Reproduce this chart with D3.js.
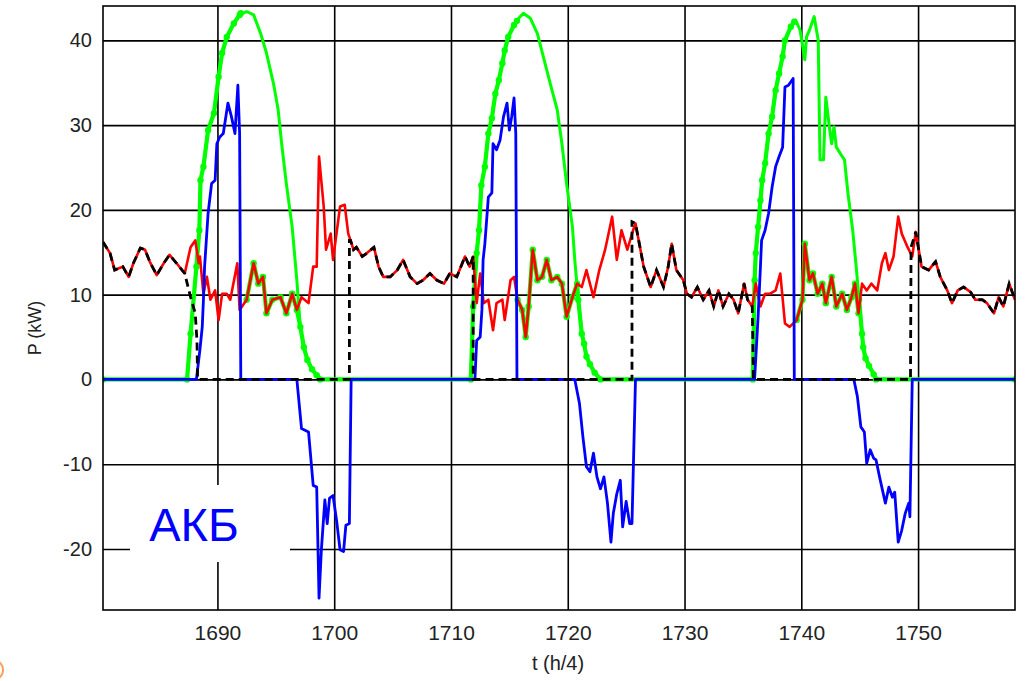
<!DOCTYPE html>
<html><head><meta charset="utf-8">
<script src="https://cdn.jsdelivr.net/npm/d3@7"></script>
<style>body{margin:0;background:#fff} svg{display:block} text{font-family:"Liberation Sans",Arial,sans-serif}</style>
</head><body><svg id="c" width="1025" height="681"></svg>
<script>
const xTicks = [1690, 1700, 1710, 1720, 1730, 1740, 1750];
const yTicks = [-20, -10, 0, 10, 20, 30, 40];
const xDomain = [1680.2, 1758.3];
const yDomain = [-27.2, 44.05];
const xLabel = "t (h/4)";
const yLabel = "P (kW)";
const boxLabel = "АКБ";

// Load (red)
const load = [
[1680.2,16.2],[1680.8,14.9],[1681.2,12.9],[1681.9,13.3],[1682.4,12.1],[1682.8,13.7],[1683.4,15.5],[1683.8,15.3],[1684.2,13.9],[1684.8,12.3],[1685.4,13.7],[1685.9,14.7],[1686.5,13.7],[1687.2,12.5],[1687.7,15.6],[1688.1,16.4],[1688.4,13.7],[1688.5,14.5],[1688.8,10.1],[1689.1,12.1],[1689.4,9.4],[1689.8,10.5],[1690.1,7.0],[1690.4,10.1],[1690.8,10.1],[1691.1,9.4],[1691.7,13.7],[1691.9,8.2],[1692.5,9.4],[1693.1,13.7],[1693.5,11.3],[1693.9,12.1],[1694.2,7.8],[1694.7,9.4],[1695.4,9.7],[1695.9,7.8],[1696.4,10.1],[1696.8,8.2],[1697.2,9.7],[1697.8,9.0],[1698.2,13.3],[1698.5,13.3],[1698.7,26.3],[1699.1,20.4],[1699.3,15.3],[1699.7,17.2],[1699.9,14.1],[1700.5,20.4],[1700.9,20.6],[1701.2,17.2],
[1701.4,16.4],[1701.65,15.3],[1701.9,15.6],[1702.4,14.5],[1702.8,14.9],[1703.4,15.6],[1703.8,13.3],[1704.2,12.1],[1704.8,12.1],[1705.4,12.9],[1705.9,14.1],[1706.5,12.1],[1707.1,11.3],[1707.6,11.7],[1708.2,12.5],[1708.8,11.7],[1709.4,11.3],[1709.9,12.5],[1710.5,12.1],[1711.2,14.5],[1711.6,13.3],
[1711.9,14.5],[1712.2,9.0],[1712.5,12.5],[1712.8,9.0],[1713.2,9.4],[1713.6,5.8],[1713.9,9.0],[1714.4,9.4],[1714.6,7.0],[1715.1,11.7],[1715.4,12.1],[1715.7,9.4],[1716.1,8.2],[1716.4,5.0],[1716.65,8.6],[1717.0,15.3],[1717.4,11.7],[1717.8,12.1],[1718.2,14.1],[1718.6,11.7],[1719.1,12.1],[1719.5,11.3],[1719.9,7.4],[1720.4,9.7],[1720.8,11.3],[1721.2,10.9],[1721.6,12.9],[1722.2,9.7],[1722.7,12.9],[1723.2,15.3],[1723.8,19.2],[1724.2,14.1],[1724.6,17.6],[1725.1,15.3],[1725.6,17.6],[1725.8,18.4],
[1726.5,13.3],[1727.1,10.9],[1727.6,12.9],[1728.2,10.9],[1728.6,13.3],[1728.9,16.0],[1729.3,12.9],[1729.9,11.7],[1730.2,10.1],[1730.6,9.7],[1731.1,10.9],[1731.6,9.4],[1732.1,10.5],[1732.5,8.6],[1732.9,10.5],[1733.3,8.6],[1733.8,10.1],[1734.2,9.4],[1734.6,7.8],[1735.1,11.3],[1735.4,9.4],[1735.8,8.6],
[1736.1,11.3],[1736.5,8.6],[1736.9,10.1],[1737.3,10.1],[1737.8,10.5],[1738.2,12.5],[1738.6,6.6],[1739.0,6.2],[1739.6,7.0],[1740.1,9.4],[1740.3,16.0],[1740.7,11.7],[1741.0,12.5],[1741.4,10.1],[1741.8,11.3],[1742.1,9.0],[1742.6,12.1],[1743.0,8.6],[1743.5,10.1],[1743.9,8.2],[1744.3,9.7],[1744.6,11.3],[1744.9,7.8],[1745.2,11.3],[1745.6,10.5],[1746.0,11.3],[1746.5,10.5],[1746.9,13.7],[1747.2,14.9],[1747.5,12.9],[1747.9,14.5],[1748.3,19.2],[1748.6,17.2],[1749.1,15.6],[1749.5,14.5],[1749.8,17.4],
[1750.3,13.3],[1750.9,12.9],[1751.5,13.9],[1751.9,12.1],[1752.5,10.5],[1752.9,9.0],[1753.4,10.5],[1753.9,10.9],[1754.5,10.3],[1754.9,9.4],[1755.5,9.4],[1755.9,9.0],[1756.5,7.8],[1756.9,9.7],[1757.3,8.6],[1757.8,11.3],[1758.3,9.4]
];

// Available PV power (green solid)
const pvAvail = [
[1680.2,0],[1687.4,0],[1687.7,5.4],[1688.2,13.3],[1688.45,17.6],[1688.55,23.5],[1688.8,25.1],[1689.2,29.4],[1689.7,31.4],[1690.1,35.7],[1690.4,38.5],[1690.8,40.4],[1691.4,42.0],[1691.9,43.0],[1692.5,43.4],[1693.1,43.0],[1693.7,40.8],[1694.2,38.5],[1694.8,34.9],[1695.2,31.8],[1695.5,27.8],[1695.9,23.1],[1696.4,18.0],[1696.8,11.7],[1697.1,6.2],[1697.4,3.8],[1697.7,2.3],[1698.1,1.2],[1698.5,0.5],[1698.8,0],
[1711.7,0],[1711.9,8.6],[1712.2,14.9],[1712.4,17.6],[1712.6,22.9],[1712.9,25.1],[1713.2,29.0],[1713.5,30.8],[1713.8,33.7],[1714.1,35.3],[1714.4,37.3],[1714.6,38.8],[1714.9,40.4],[1715.4,41.8],[1715.8,42.6],[1716.2,43.2],[1716.8,42.6],[1717.4,40.8],[1717.9,38.1],[1718.5,34.9],[1719.1,31.8],[1719.5,27.8],[1719.9,23.1],[1720.4,18.0],[1720.6,14.1],[1720.9,9.4],[1721.2,5.4],[1721.4,4.2],[1721.6,2.7],[1721.9,1.8],[1722.3,0.8],[1722.8,0],
[1735.85,0],[1736.0,11.7],[1736.1,14.9],[1736.3,18.0],[1736.5,21.1],[1736.65,23.5],[1736.9,25.5],[1737.2,29.0],[1737.5,31.0],[1737.8,34.1],[1738.1,36.1],[1738.4,38.1],[1738.6,40.0],[1739.1,41.6],[1739.5,42.4],[1739.9,41.2],[1740.3,37.7],[1740.45,40.4],[1740.7,41.2],[1741.1,42.8],[1741.45,40.0],[1741.6,25.9],[1741.9,25.9],[1742.1,33.3],[1742.4,29.8],[1742.6,27.8],[1742.8,29.8],[1743.0,27.4],[1743.5,26.3],[1743.7,25.9],[1744.0,21.9],[1744.4,17.6],[1744.7,13.3],[1744.95,9.4],[1745.2,5.4],[1745.3,3.8],[1745.5,2.5],[1745.8,1.6],[1746.2,0.6],[1746.4,0],[1758.3,0]
];

// Battery power (blue): + charge, - discharge
const battery = [
[1680.2,0],[1688.2,0],[1688.5,3.5],[1688.7,6.2],[1688.8,9.4],[1688.9,13.3],[1689.2,19.6],[1689.5,23.1],[1689.8,23.5],[1689.95,27.8],[1690.2,28.6],[1690.5,29.0],[1690.9,32.6],[1691.2,31.0],[1691.5,29.0],[1691.75,34.7],[1691.9,29.0],[1692.0,0],
[1696.8,0],[1697.2,-5.8],[1697.8,-6.2],[1698.2,-12.5],[1698.5,-12.7],[1698.7,-25.8],[1698.9,-20.1],[1699.2,-14.2],[1699.4,-17.0],[1699.6,-14.0],[1699.9,-13.7],[1700.2,-16.6],[1700.5,-20.1],[1700.8,-20.3],[1701.0,-17.2],[1701.3,-17.0],[1701.45,0],
[1712.05,0],[1712.2,4.6],[1712.5,5.0],[1712.65,8.2],[1712.75,14.1],[1712.9,16.0],[1713.2,21.5],[1713.5,22.0],[1713.6,27.8],[1713.9,27.1],[1714.2,28.2],[1714.5,31.0],[1714.8,32.6],[1715.0,29.4],[1715.2,31.0],[1715.4,33.2],[1715.55,29.0],[1715.65,0],
[1720.6,0],[1721.0,-2.8],[1721.3,-6.8],[1721.6,-10.3],[1721.9,-10.9],[1722.2,-8.7],[1722.5,-11.5],[1722.8,-12.9],[1723.1,-11.5],[1723.4,-14.6],[1723.7,-19.2],[1723.9,-15.8],[1724.2,-13.5],[1724.5,-11.9],[1724.7,-17.4],[1725.0,-14.4],[1725.3,-17.0],[1725.5,-17.0],[1725.8,0],
[1736.0,0],[1736.3,7.4],[1736.5,13.3],[1736.6,16.4],[1736.9,17.6],[1737.2,19.6],[1737.5,22.7],[1737.8,25.1],[1738.1,26.3],[1738.4,27.4],[1738.6,34.5],[1738.9,34.7],[1739.3,35.5],[1739.4,0],
[1744.5,0],[1744.8,-2.0],[1745.1,-5.6],[1745.4,-6.2],[1745.6,-9.9],[1745.9,-8.3],[1746.2,-9.3],[1746.4,-9.5],[1746.7,-11.5],[1747.2,-14.6],[1747.5,-12.7],[1747.8,-13.9],[1748.0,-13.3],[1748.3,-19.2],[1748.6,-17.8],[1748.9,-15.8],[1749.2,-14.6],[1749.3,-16.2],[1749.5,0],[1758.3,0]
];

// Grid power (black dashed): equals load when PV is off, zero while PV + battery cover the load
const gridData = [
  ...load.filter(d => d[0] <= 1687.2),
  [1687.7, 9.7], [1688.1, 7.8], [1688.25, 4.5], [1688.3, 0],
  [1701.3, 0], [1701.3, 16.4],
  ...load.filter(d => d[0] >= 1701.4 && d[0] <= 1711.9),
  [1711.9, 0], [1725.5, 0], [1725.5, 18.6],
  ...load.filter(d => d[0] >= 1725.8 && d[0] <= 1735.8),
  [1735.9, 0], [1749.35, 0], [1749.4, 15.6],
  ...load.filter(d => d[0] >= 1749.8)
];

// PV power actually used (green with dots): follows available PV, limited to the load once the battery is full
// (null marks a break in the drawn line)
const pvUsed = [
  ...pvAvail.filter(d => d[0] <= 1691.9), [1692.0, 43.2], null,
  ...load.filter(d => d[0] >= 1692.5 && d[0] <= 1696.8),
  ...pvAvail.filter(d => d[0] >= 1697.0 && d[0] <= 1715.4), [1715.65, 42.3], null,
  ...load.filter(d => d[0] >= 1715.7 && d[0] <= 1720.8),
  ...pvAvail.filter(d => d[0] >= 1720.9 && d[0] <= 1739.1), [1739.4, 42.2], null,
  ...load.filter(d => d[0] >= 1739.6 && d[0] <= 1744.9),
  ...pvAvail.filter(d => d[0] >= 1744.95)
];

const svg = d3.select('#c');
const m = {l: 103, t: 6, r: 1015, b: 610};
const x = d3.scaleLinear().domain(xDomain).range([m.l, m.r]);
const y = d3.scaleLinear().domain(yDomain).range([m.b, m.t]);
const fmt = d => String(d);

svg.append('defs').append('clipPath').attr('id', 'clip')
  .append('rect').attr('x', m.l).attr('y', m.t).attr('width', m.r - m.l).attr('height', m.b - m.t);

// grid lines
const gx = svg.append('g').attr('transform', `translate(0,${m.b})`)
  .call(d3.axisBottom(x).tickValues(xTicks).tickSize(-(m.b - m.t)).tickFormat(''));
gx.select('.domain').remove();
gx.selectAll('line').attr('stroke', '#000').attr('stroke-width', 1.6);
const gy = svg.append('g').attr('transform', `translate(${m.l},0)`)
  .call(d3.axisLeft(y).tickValues(yTicks).tickSize(-(m.r - m.l)).tickFormat(''));
gy.select('.domain').remove();
gy.selectAll('line').attr('stroke', '#000').attr('stroke-width', 1.6);

// white label box
svg.append('rect').attr('x', 130).attr('y', 485).attr('width', 160).attr('height', 77).attr('fill', '#fff');
svg.append('text').attr('x', 194).attr('y', 541).attr('text-anchor', 'middle')
  .attr('font-size', 47).attr('fill', '#0000ff').text(boxLabel);

const line = d3.line().defined(d => d !== null).x(d => x(d[0])).y(d => y(d[1]));
const plot = svg.append('g').attr('clip-path', 'url(#clip)');

plot.append('path').datum(pvAvail).attr('d', line).attr('fill', 'none')
  .attr('stroke', '#00ff00').attr('stroke-width', 3).attr('stroke-linejoin', 'round');
plot.append('path').datum(pvUsed).attr('d', line).attr('fill', 'none')
  .attr('stroke', '#00ff00').attr('stroke-width', 4.2).attr('stroke-linejoin', 'round');
plot.append('g').selectAll('circle').data(pvUsed.filter(d => d !== null)).join('circle')
  .attr('cx', d => x(d[0])).attr('cy', d => y(d[1])).attr('r', 3.2).attr('fill', '#00ff00');
plot.append('path').datum(load).attr('d', line).attr('fill', 'none')
  .attr('stroke', '#ff0000').attr('stroke-width', 2.6).attr('stroke-linejoin', 'round');
plot.append('path').datum(battery).attr('d', line).attr('fill', 'none')
  .attr('stroke', '#0000ff').attr('stroke-width', 2.8).attr('stroke-linejoin', 'round');
plot.append('path').datum(gridData).attr('d', line).attr('fill', 'none')
  .attr('stroke', '#000').attr('stroke-width', 2.8).attr('stroke-dasharray', '8,5');

// frame
svg.append('rect').attr('x', m.l).attr('y', m.t).attr('width', m.r - m.l).attr('height', m.b - m.t)
  .attr('fill', 'none').attr('stroke', '#000').attr('stroke-width', 1.6);

// tick labels
const ax = svg.append('g').attr('transform', `translate(0,${m.b})`)
  .call(d3.axisBottom(x).tickValues(xTicks).tickSize(0).tickPadding(15).tickFormat(fmt));
ax.select('.domain').remove();
ax.selectAll('text').attr('font-size', 21).attr('fill', '#222').attr('font-family', '"Liberation Sans",Arial,sans-serif');
const ay = svg.append('g').attr('transform', `translate(${m.l},0)`)
  .call(d3.axisLeft(y).tickValues(yTicks).tickSize(0).tickPadding(11).tickFormat(fmt));
ay.select('.domain').remove();
ay.selectAll('text').attr('font-size', 20).attr('fill', '#222').attr('font-family', '"Liberation Sans",Arial,sans-serif');

// axis titles
svg.append('text').attr('x', 558).attr('y', 670).attr('text-anchor', 'middle')
  .attr('font-size', 20).attr('fill', '#222').text(xLabel);
svg.append('text').attr('transform', 'translate(41,328) rotate(-90)').attr('text-anchor', 'middle')
  .attr('font-size', 18).attr('fill', '#222').text(yLabel);

// small orange mark in the bottom-left corner
svg.append('circle').attr('cx', -7).attr('cy', 670).attr('r', 10)
  .attr('fill', 'none').attr('stroke', '#f7a15c').attr('stroke-width', 2);
</script></body></html>
